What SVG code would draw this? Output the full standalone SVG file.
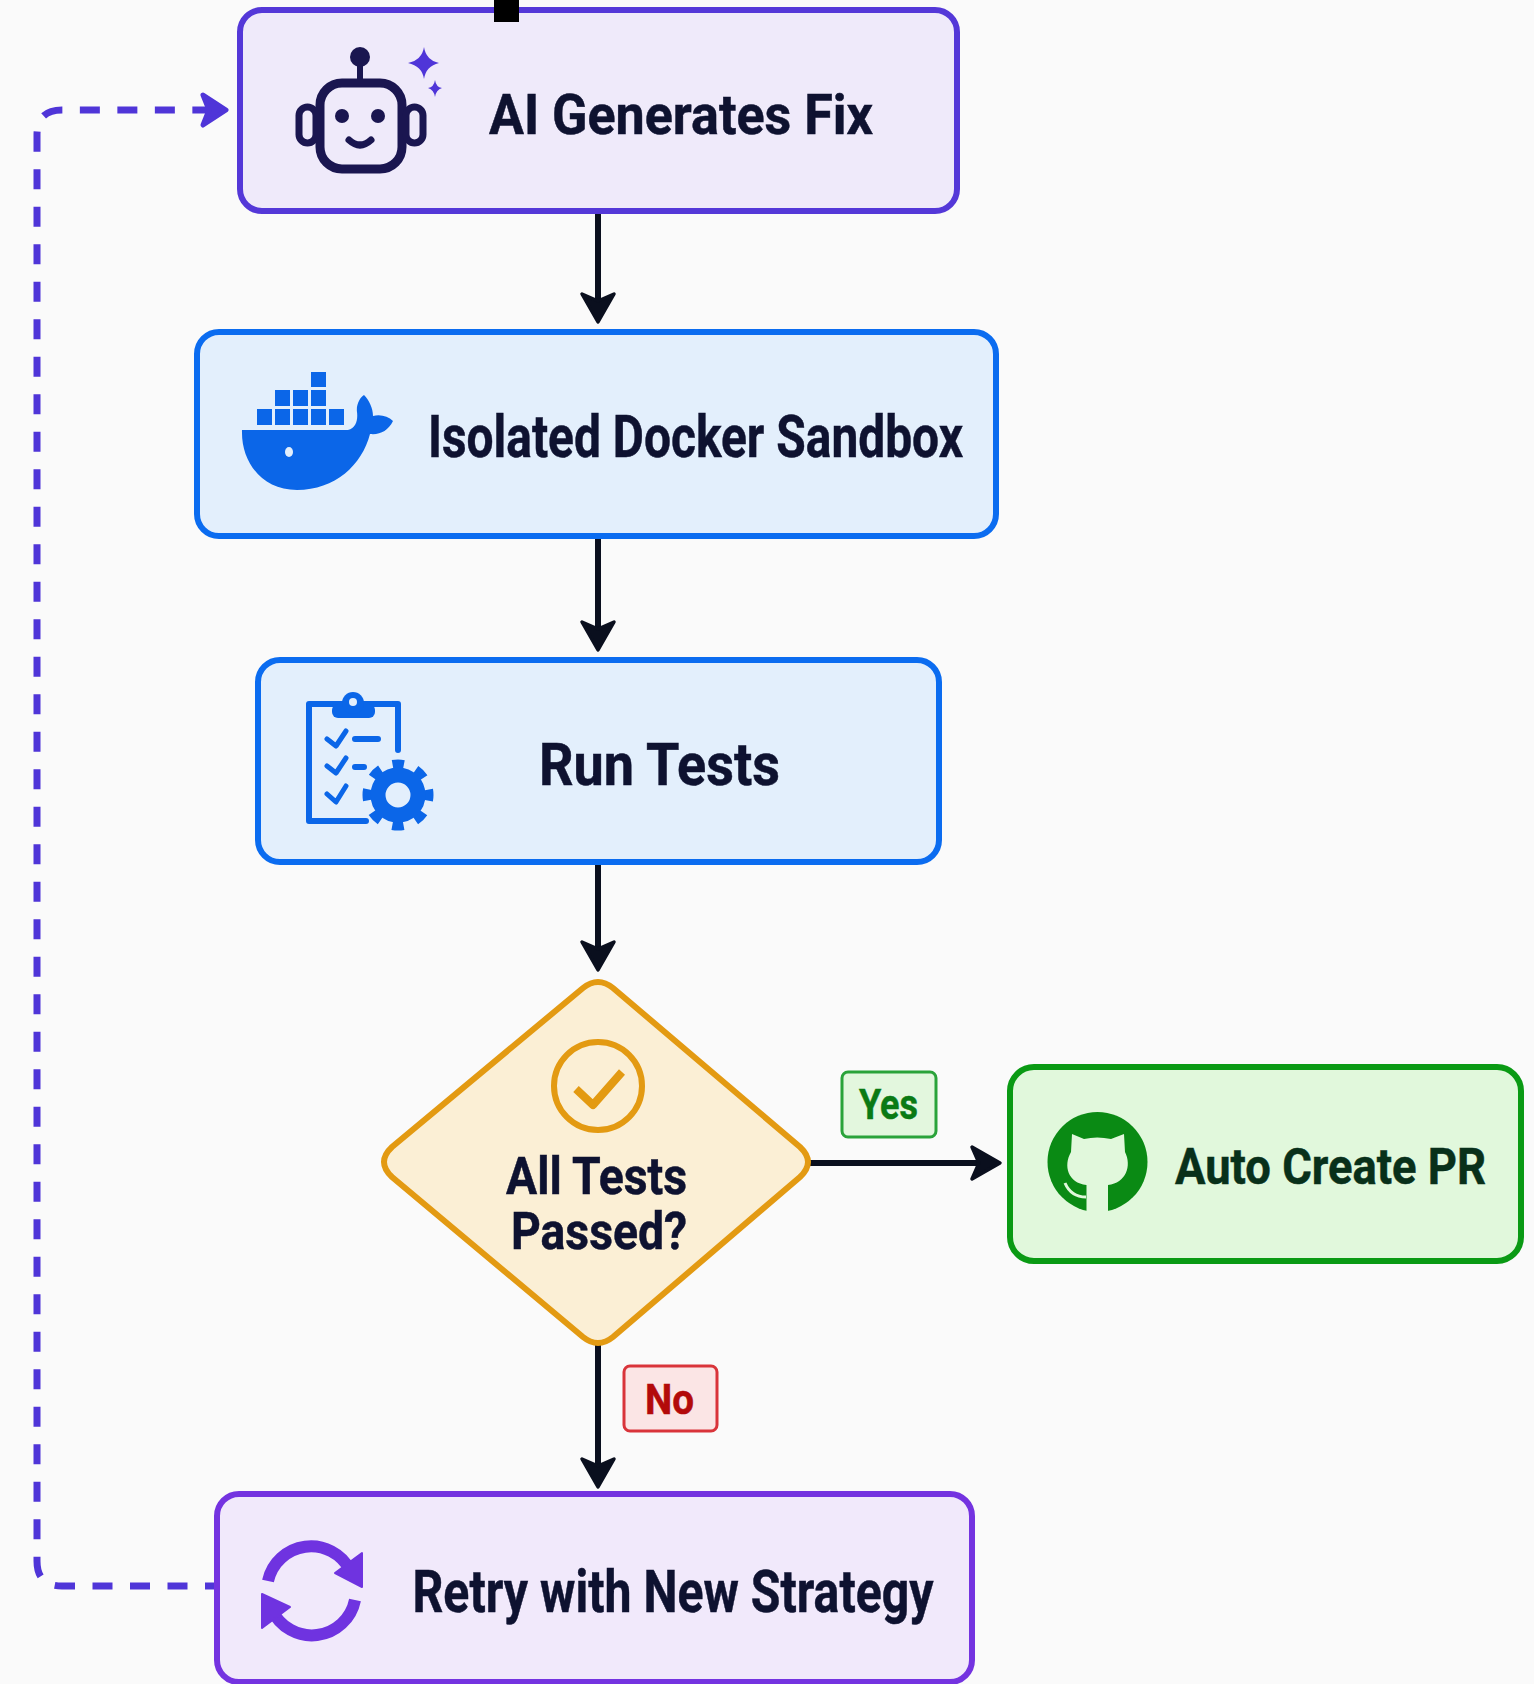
<svg xmlns="http://www.w3.org/2000/svg" width="1534" height="1684" viewBox="0 0 1534 1684">
<style>
.t{font-family:Roboto,"Liberation Sans",sans-serif;font-weight:700;fill:#0e1230;stroke:#0e1230;stroke-width:.5}
.box{stroke-width:6}
.flow{fill:none;stroke:#0a0f1e;stroke-width:6}
.loop{fill:none;stroke:#4f35d8;stroke-width:7;stroke-dasharray:20 17.5;stroke-dashoffset:8}
.navy{fill:none;stroke:#1a1650;stroke-width:9}
.blue{fill:#0b66e8}
.bline{fill:none;stroke:#0b66e8;stroke-width:6;stroke-linecap:round;stroke-linejoin:round}
.chk{fill:none;stroke:#0b66e8;stroke-width:5;stroke-linecap:round;stroke-linejoin:round}
</style>
<defs>
<marker id="ah" markerUnits="userSpaceOnUse" viewBox="-34 -20 36 40" refX="-10" refY="0" markerWidth="36" markerHeight="40" orient="auto">
<path d="M-29 -16 L-1 0 L-29 16 L-22 0 Z" fill="#0a0f1e" stroke="#0a0f1e" stroke-width="3.5" stroke-linejoin="round"/>
</marker>
<marker id="ahp" markerUnits="userSpaceOnUse" viewBox="-34 -20 36 40" refX="-10" refY="0" markerWidth="36" markerHeight="40" orient="auto">
<path d="M-25 -15 L-2 0 L-25 15 L-19 0 Z" fill="#4f35d8" stroke="#4f35d8" stroke-width="5" stroke-linejoin="round"/>
</marker>
</defs>
<rect width="1534" height="1684" fill="#fafafa"/>

<g id="connectors">
<path class="flow" d="M598 212V313" marker-end="url(#ah)"/>
<path class="flow" d="M598 535V641" marker-end="url(#ah)"/>
<path class="flow" d="M598 861V961" marker-end="url(#ah)"/>
<path class="flow" d="M810 1163H991" marker-end="url(#ah)"/>
<path class="flow" d="M598 1343V1478" marker-end="url(#ah)"/>
<path class="loop" d="M217 1586H62Q37 1586 37 1561V135Q37 110 62 110H218" marker-end="url(#ahp)"/>
</g>

<g id="node-ai">
<rect class="box" x="240" y="10" width="717" height="201" rx="22" fill="#efeafa" stroke="#5438d8"/>
<rect class="navy" x="320" y="83" width="82" height="86" rx="22"/>
<rect x="299" y="107" width="17" height="36" rx="8.500" fill="none" stroke="#1a1650" stroke-width="7"/>
<rect x="406" y="107" width="17" height="36" rx="8.500" fill="none" stroke="#1a1650" stroke-width="7"/>
<path d="M360 60V80" stroke="#1a1650" stroke-width="6" fill="none"/>
<circle cx="360" cy="57" r="10" fill="#1a1650"/>
<circle cx="342" cy="116" r="7" fill="#1a1650"/>
<circle cx="378" cy="116" r="7" fill="#1a1650"/>
<path d="M349 140Q360 150 371 140" fill="none" stroke="#1a1650" stroke-width="7" stroke-linecap="round"/>
<path d="M424 47Q426 60 439 63Q426 66 424 79Q422 66 408 63Q422 60 424 47Z" fill="#4f35d8"/>
<path d="M435 80Q436 87 442 88Q436 90 435 97Q434 90 428 88Q434 87 435 80Z" fill="#4f35d8"/>
<text class="t" x="489" y="134" font-size="56" textLength="384" lengthAdjust="spacingAndGlyphs">AI Generates Fix</text>
<rect x="494" y="0" width="25" height="22" fill="#000"/>
</g>

<g id="node-docker">
<rect class="box" x="197" y="332" width="799" height="204" rx="22" fill="#e3effc" stroke="#0b6cf0"/>
<g class="blue">
<rect x="257" y="409" width="15" height="16"/><rect x="275" y="409" width="15" height="16"/><rect x="293" y="409" width="15" height="16"/><rect x="311" y="409" width="15" height="16"/><rect x="329" y="409" width="15" height="16"/>
<rect x="275" y="390" width="15" height="16"/><rect x="293" y="390" width="15" height="16"/><rect x="311" y="390" width="15" height="16"/>
<rect x="311" y="372" width="15" height="15"/>
<path d="M242 430H348C356 428 358 420 357 412C356 405 360 397 364 395C369 400 373 408 373 416C380 414 388 416 393 421C388 431 380 435 370 434C362 465 335 490 297 490C262 490 241 462 242 430Z"/>
</g>
<ellipse cx="289" cy="452" rx="4" ry="5" fill="#e3effc"/>
<text class="t" x="428" y="457" font-size="60" textLength="535" lengthAdjust="spacingAndGlyphs">Isolated Docker Sandbox</text>
</g>

<g id="node-tests">
<rect class="box" x="258" y="660" width="681" height="202" rx="22" fill="#e3effc" stroke="#0b6cf0"/>
<path class="bline" d="M398 750V704H309V821H366"/>
<rect class="blue" x="332" y="704" width="43" height="14" rx="6"/>
<circle cx="353" cy="703" r="11" fill="#0b66e8"/>
<circle cx="353" cy="702" r="4" fill="#e3effc"/>
<path class="chk" d="M327 739L336 746L346 731M327 766L336 773L346 758M327 794L336 802L346 786"/>
<path class="bline" d="M355 739H378M355 767H364"/>
<circle cx="398" cy="795" r="30" fill="none" stroke="#0b66e8" stroke-width="11" stroke-dasharray="11 12.56" stroke-dashoffset="5.5"/>
<circle cx="398" cy="795" r="20" fill="none" stroke="#0b66e8" stroke-width="15"/>
<text class="t" x="539" y="785" font-size="60" textLength="241" lengthAdjust="spacingAndGlyphs">Run Tests</text>
</g>

<g id="node-decision">
<path d="M583 988Q598 976 613 988L800 1147Q816 1162 800 1177L613 1337Q598 1349 583 1337L392 1177Q376 1162 392 1147Z" fill="#fbefd5" stroke="#e39a12" stroke-width="6"/>
<circle cx="598" cy="1086" r="44" fill="none" stroke="#e39a12" stroke-width="6"/>
<path d="M576 1089L593 1105L622 1072" fill="none" stroke="#e39a12" stroke-width="8" stroke-linejoin="round"/>
<text class="t" x="506" y="1194" font-size="52" textLength="181" lengthAdjust="spacingAndGlyphs">All Tests</text>
<text class="t" x="511" y="1249" font-size="52" textLength="176" lengthAdjust="spacingAndGlyphs">Passed?</text>
</g>

<g id="label-yes">
<rect x="842" y="1072" width="94" height="65" rx="6" fill="#e3f7de" stroke="#2aa33a" stroke-width="3"/>
<text class="t" x="859" y="1119" font-size="42" textLength="59" lengthAdjust="spacingAndGlyphs" style="fill:#0a7a14;stroke:#0a7a14">Yes</text>
</g>

<g id="node-pr">
<rect class="box" x="1010" y="1067" width="511" height="194" rx="24" fill="#e1f8dc" stroke="#0a9a14"/>
<circle cx="1097.5" cy="1162" r="50" fill="#0a8a14"/>
<path d="M1072 1134L1084 1139Q1097 1136 1111 1139L1124 1134L1125 1152C1132 1166 1126 1183 1108 1185V1214H1086.500V1185C1068 1183 1063 1166 1071 1152Z" fill="#e1f8dc"/>
<path d="M1065 1183Q1071 1197 1086 1197" fill="none" stroke="#e1f8dc" stroke-width="3"/>
<text class="t" x="1175" y="1184" font-size="50" textLength="311" lengthAdjust="spacingAndGlyphs" style="fill:#08301a;stroke:#08301a">Auto Create PR</text>
</g>

<g id="label-no">
<rect x="624" y="1366" width="93" height="65" rx="6" fill="#fbe5e5" stroke="#d9343a" stroke-width="3"/>
<text class="t" x="645" y="1414" font-size="43" textLength="49" lengthAdjust="spacingAndGlyphs" style="fill:#b30a0a;stroke:#b30a0a">No</text>
</g>

<g id="node-retry">
<rect class="box" x="217" y="1494" width="755" height="188" rx="22" fill="#f1e9fb" stroke="#7433e0"/>
<path d="M268 1581A44 44 0 0 1 350 1570M355 1600A44 44 0 0 1 272 1610" fill="none" stroke="#6f33e0" stroke-width="12"/>
<path d="M362 1553V1587L335 1573Z" fill="#6f33e0" stroke="#6f33e0" stroke-width="2" stroke-linejoin="round"/>
<path d="M262 1594V1628L290 1607Z" fill="#6f33e0" stroke="#6f33e0" stroke-width="2" stroke-linejoin="round"/>
<text class="t" x="412.500" y="1612" font-size="60" textLength="521" lengthAdjust="spacingAndGlyphs">Retry with New Strategy</text>
</g>
</svg>
